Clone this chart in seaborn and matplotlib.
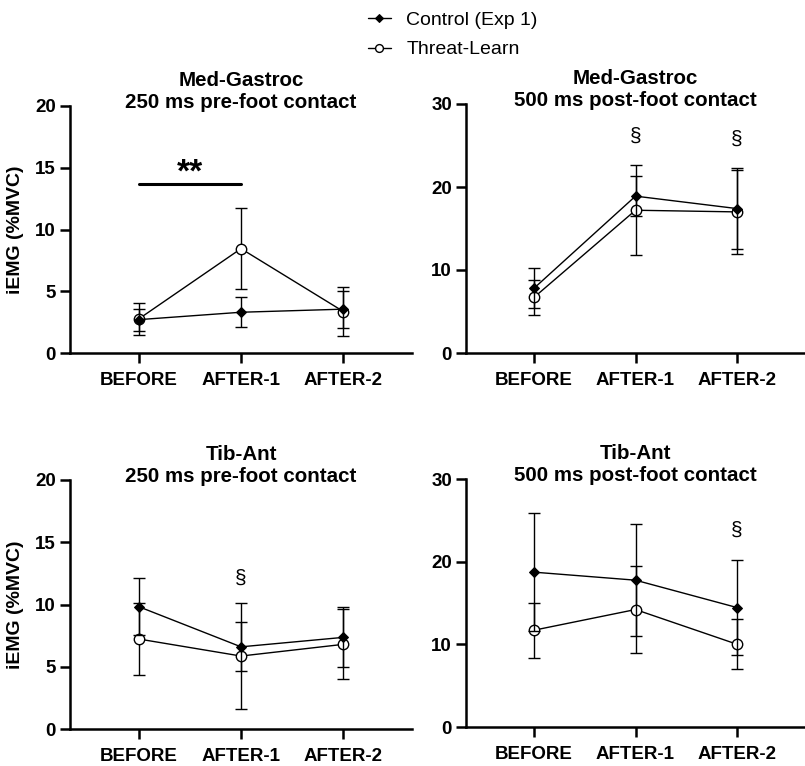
import numpy as np
import pandas as pd
import matplotlib
matplotlib.use("Agg")
import matplotlib.pyplot as plt
import seaborn as sns

# =========================
# Data
# =========================
conditions = ["BEFORE", "AFTER-1", "AFTER-2"]

mg_pre_ctrl      = [2.70, 3.30, 3.55]
mg_pre_ctrl_err  = [0.90, 1.23, 1.50]
mg_pre_thr       = [2.75, 8.45, 3.36]
mg_pre_thr_err   = [1.30, 3.26, 1.95]

mg_post_ctrl     = [7.80, 18.90, 17.40]
mg_post_ctrl_err = [2.40, 2.40, 4.90]
mg_post_thr      = [6.70, 17.20, 17.00]
mg_post_thr_err  = [2.15, 5.45, 5.10]

ta_pre_ctrl      = [9.83, 6.60, 7.36]
ta_pre_ctrl_err  = [2.27, 1.98, 2.40]
ta_pre_thr       = [7.23, 5.86, 6.80]
ta_pre_thr_err   = [2.90, 4.23, 2.80]

ta_post_ctrl     = [18.73, 17.76, 14.45]
ta_post_ctrl_err = [7.15, 6.80, 5.80]
ta_post_thr      = [11.71, 14.21, 10.01]
ta_post_thr_err  = [3.35, 5.30, 3.05]

titles = [
    "Med-Gastroc\n250 ms pre-foot contact",
    "Med-Gastroc\n500 ms post-foot contact",
    "Tib-Ant\n250 ms pre-foot contact",
    "Tib-Ant\n500 ms post-foot contact",
]
ymaxes = [20, 30, 20, 30]
yticks = [[0, 5, 10, 15, 20], [0, 10, 20, 30], [0, 5, 10, 15, 20], [0, 10, 20, 30]]

# section-sign markers: (panel, condition, y)
section_marks = [(1, "AFTER-1", 26.1), (1, "AFTER-2", 25.7),
                 (2, "AFTER-1", 12.1), (3, "AFTER-2", 23.8)]

panels = [
    (mg_pre_ctrl, mg_pre_ctrl_err, mg_pre_thr, mg_pre_thr_err),
    (mg_post_ctrl, mg_post_ctrl_err, mg_post_thr, mg_post_thr_err),
    (ta_pre_ctrl, ta_pre_ctrl_err, ta_pre_thr, ta_pre_thr_err),
    (ta_post_ctrl, ta_post_ctrl_err, ta_post_thr, ta_post_thr_err),
]

# =========================
# Style
# =========================
sns.set_theme(style="ticks")
plt.rcParams["font.family"] = ["Liberation Sans", "DejaVu Sans"]
plt.rcParams["axes.linewidth"] = 1.8
plt.rcParams["text.color"] = "black"
plt.rcParams["axes.labelcolor"] = "black"
plt.rcParams["axes.edgecolor"] = "black"
plt.rcParams["xtick.color"] = "black"
plt.rcParams["ytick.color"] = "black"

W, H = 805, 766
fig = plt.figure(figsize=(W / 100, H / 100), dpi=100)

# axes boxes in pixels: (left, top, right, bottom)
boxes = [(70, 106, 412, 353), (466, 104, 805, 353),
         (70, 480, 412, 729), (466, 479, 805, 727)]

axes = []
for (l, t, r, b) in boxes:
    axes.append(fig.add_axes([l / W, (H - b) / H, (r - l) / W, (b - t) / H]))

for i, ax in enumerate(axes):
    ctrl, ctrl_err, thr, thr_err = panels[i]
    df = pd.DataFrame({"condition": conditions, "ctrl": ctrl, "thr": thr})

    # Threat-Learn (open circles)
    ax.errorbar(conditions, thr, yerr=thr_err, fmt="none", ecolor="black",
                elinewidth=1.0, capsize=4, capthick=1.0, zorder=2)
    sns.lineplot(data=df, x="condition", y="thr", sort=False, ax=ax,
                 color="black", lw=1.0, marker="o", markersize=7.5,
                 markerfacecolor="white", markeredgecolor="black",
                 markeredgewidth=1.0, zorder=3, label="Threat-Learn")
    # Control (filled diamonds)
    ax.errorbar(conditions, ctrl, yerr=ctrl_err, fmt="none", ecolor="black",
                elinewidth=1.0, capsize=4, capthick=1.0, zorder=4)
    sns.lineplot(data=df, x="condition", y="ctrl", sort=False, ax=ax,
                 color="black", lw=1.0, marker="D", markersize=5.5,
                 markerfacecolor="black", markeredgecolor="black",
                 zorder=5, label="Control (Exp 1)")

    ax.set_xlim(-0.67, 2.67)
    ax.set_ylim(0, ymaxes[i])
    ax.set_yticks(yticks[i])
    ax.set_title(titles[i], fontsize=14.8, fontweight="bold", y=0.99, pad=0,
                 linespacing=1.2)
    ax.set_xlabel("")
    ax.set_ylabel("iEMG (%MVC)" if i % 2 == 0 else "", fontsize=14,
                  fontweight="bold", labelpad=8)
    ax.tick_params(axis="both", labelsize=13.5, width=1.8, length=7,
                   direction="out", pad=3)
    for lab in ax.get_xticklabels() + ax.get_yticklabels():
        lab.set_fontweight("bold")
    ax.tick_params(axis="x", pad=7)
    sns.despine(ax=ax)
    ax.get_legend().remove()
    for ln in ax.lines:
        ln.set_clip_on(False)

# significance bar in first panel
axes[0].plot(["BEFORE", "AFTER-1"], [13.67, 13.67], color="black", lw=2.2)
axes[0].text(0.5, 13.3, "**", ha="center", va="bottom", fontsize=24,
             fontweight="bold")

for (p, cond, y) in section_marks:
    axes[p].text(conditions.index(cond), y, "§", ha="center", va="center",
                 fontsize=15)

# legend
handles, labels = axes[0].get_legend_handles_labels()
order = [labels.index("Control (Exp 1)"), labels.index("Threat-Learn")]
fig.legend([handles[k] for k in order], [labels[k] for k in order],
           loc="upper left", bbox_to_anchor=(350 / W, 1 + 6 / H),
           frameon=False, fontsize=14, handlelength=1.2, handletextpad=0.8,
           labelspacing=0.6, markerscale=0.75)

fig.savefig("out.png", dpi=100)
